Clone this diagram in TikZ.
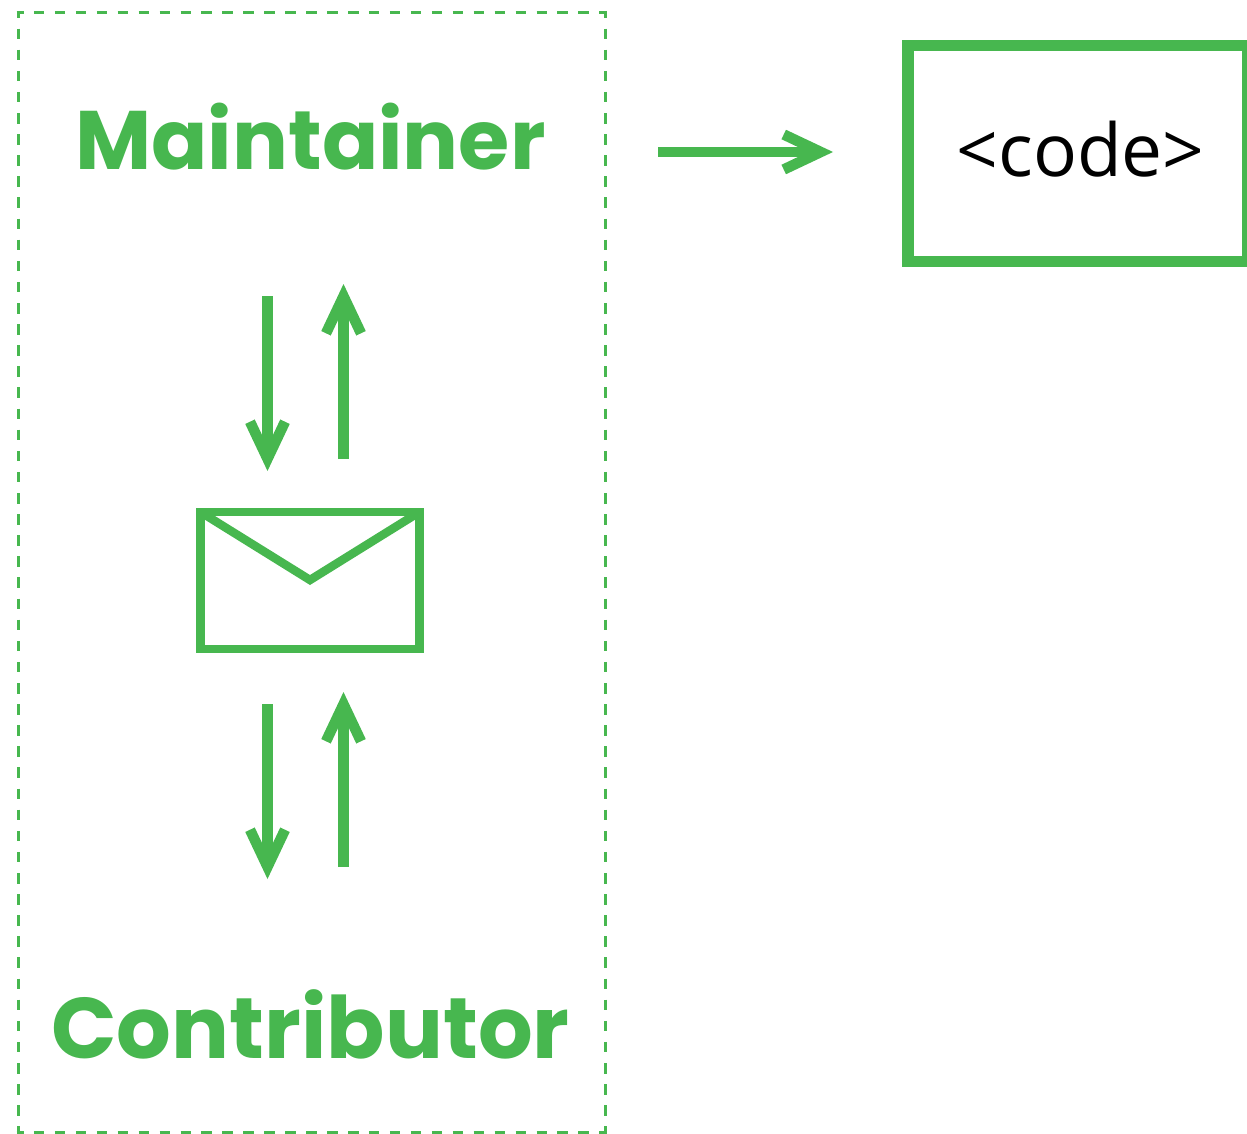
\documentclass[tikz,border=0pt]{standalone}
\usepackage{fontspec}
\setmainfont{Poppins}
\newfontfamily\codefont{Open Sans}
\usetikzlibrary{arrows.meta,calc}
\definecolor{brandgreen}{HTML}{47B74F}
\tikzset{
  x=1pt,y=-1pt,
  flow/.style={draw=brandgreen,line width=10.5pt,-{Straight Barb[sharp,length=37pt,width=35pt,line width=10.5pt]}},
  role/.style={text=brandgreen,anchor=base,inner sep=0pt},
  edgeh/.style={draw=brandgreen,line width=3pt,dash pattern=on 10.5pt off 10.44pt,dash phase=3.5pt},
  edgev/.style={draw=brandgreen,line width=3pt,dash pattern=on 10.5pt off 10.61pt,dash phase=3.5pt},
}
\begin{document}
\begin{tikzpicture}
\useasboundingbox (0,0) rectangle (1247,1134);
\draw[edgeh] (16.5,12.5) -- (606.5,12.5);
\draw[edgeh] (16.5,1132) -- (606.5,1132);
\draw[edgev] (18,11) -- (18,1133.5);
\draw[edgev] (605,11) -- (605,1133.5);
\node[role,font=\fontsize{83}{83}\selectfont\bfseries] (maintainer) at (310.5,170) {Maintainer};
\node[role,font=\fontsize{86}{86}\selectfont\bfseries] (contributor) at (310.5,1058) {Contributor};
\node[draw=brandgreen,line width=11.5pt,minimum width=340pt,minimum height=215.5pt,inner sep=0pt,outer sep=0pt] (codebox) at (1077.75,153.5) {};
\node[font=\codefont\fontsize{73}{73}\selectfont,inner sep=0pt,anchor=base] (codelabel) at (1080.5,177) {<code>};
\coordinate (ms) at (658,152);
\coordinate (me) at (833,152);
\draw[flow] (ms) -- (me);
\node[draw=brandgreen,line width=8.5pt,minimum width=219pt,minimum height=137pt,inner sep=0pt,outer sep=0pt] (mail) at (310,580.5) {};
\coordinate (apex) at (310,580);
\draw[brandgreen,line width=8.5pt] (mail.north west) -- (apex) -- (mail.north east);
\coordinate (a1s) at (267.5,296); \coordinate (a1e) at (267.5,471);
\coordinate (a2s) at (343.5,459); \coordinate (a2e) at (343.5,284);
\coordinate (a3s) at (267.5,704); \coordinate (a3e) at (267.5,879);
\coordinate (a4s) at (343.5,867); \coordinate (a4e) at (343.5,692);
\draw[flow] (a1s) -- (a1e);
\draw[flow] (a2s) -- (a2e);
\draw[flow] (a3s) -- (a3e);
\draw[flow] (a4s) -- (a4e);
\end{tikzpicture}
\end{document}
